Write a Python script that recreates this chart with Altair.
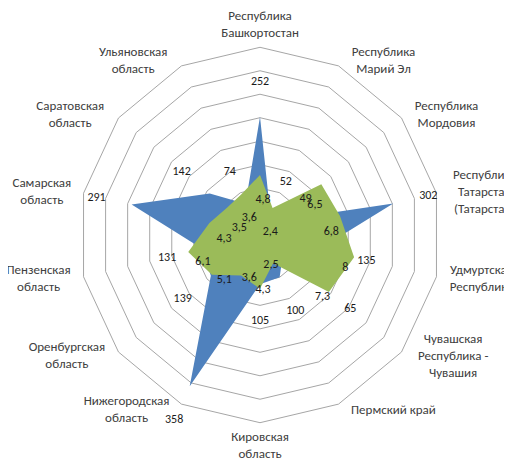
import altair as alt
import pandas as pd

# ---- data ----
categories = [
    "Республика\nБашкортостан",
    "Республика\nМарий Эл",
    "Республика\nМордовия",
    "Республика\nТатарстан\n(Татарстан)",
    "Удмуртская\nРеспублика",
    "Чувашская\nРеспублика -\nЧувашия",
    "Пермский край",
    "Кировская\nобласть",
    "Нижегородская\nобласть",
    "Оренбургская\nобласть",
    "Пензенская\nобласть",
    "Самарская\nобласть",
    "Саратовская\nобласть",
    "Ульяновская\nобласть",
]
blue_values = [252, 52, 49, 302, 135, 65, 100, 105, 358, 139, 131, 291, 142, 74]
green_values = [4.8, 2.4, 6.5, 6.8, 8, 7.3, 2.5, 4.3, 3.6, 5.1, 6.1, 4.3, 3.5, 3.6]
ring_levels = [50, 100, 150, 200, 250, 300, 350, 400]

# ---- layout / style ----
N = len(categories)
BLUE_MAX = 400.0
GREEN_MAX = 15.0       # secondary radial scale
RX, RY = 181.0, 187.7  # outer ring radius (px) horizontally / vertically
W, H = 496, 452
CX, CY = 252, 227      # centre in chart pixels
FONT = "Calibri, Carlito, 'Open Sans'"
BLUE = "#4F81BD"
GREEN = "#9BBB59"
LH = 17
blue_label_extra_px = [0, 0, 0, 0, 12, 50, 0, 0, 0, 0, 0, 0, 0, 0]


def fmt(v):
    return f"{v:g}".replace(".", ",")


df = pd.DataFrame({
    "idx": list(range(N)),
    "cat": categories,
    "nl": [len(c.split("\n")) for c in categories],
    "hw": [max(len(s) for s in c.split("\n")) * 3.3 for c in categories],
    "blue": blue_values,
    "green": green_values,
    "green_txt": [fmt(v) for v in green_values],
    "blue_txt": [fmt(v) for v in blue_values],
    "bpad": blue_label_extra_px,
})

ring_df = pd.DataFrame(
    [{"level": lv, "idx": i % N, "ord": i} for lv in ring_levels for i in range(N + 1)]
)

xs = alt.Scale(domain=[-CX, W - CX], nice=False, zero=False)
ys = alt.Scale(domain=[-(H - CY), CY], nice=False, zero=False)
X = alt.X("x:Q", scale=xs, axis=None)
Y = alt.Y("y:Q", scale=ys, axis=None)
S = f"sin(2*PI*datum.idx/{N})"
C = f"cos(2*PI*datum.idx/{N})"


def polar(field_expr, pad=0):
    """x/y (px from centre) for a radial value on the primary scale plus pad px."""
    return dict(
        x=f"(({field_expr})/{BLUE_MAX}*{RX} + ({pad}))*{S}",
        y=f"(({field_expr})/{BLUE_MAX}*{RY} + ({pad}))*{C}",
    )


rings = alt.Chart(ring_df).transform_calculate(
    **polar("datum.level")
).mark_line(stroke="#A6A6A6", strokeWidth=1).encode(
    x=X, y=Y, order="ord:Q", detail="level:N"
)

blue_poly = alt.Chart(df).transform_calculate(
    **polar("datum.blue")
).mark_line(filled=True, color=BLUE, strokeWidth=0).encode(
    x=X, y=Y, order="idx:Q"
)

green_r = f"datum.green*{BLUE_MAX}/{GREEN_MAX}"
green_poly = alt.Chart(df).transform_calculate(
    **polar(green_r)
).mark_line(filled=True, color=GREEN, strokeWidth=0).encode(
    x=X, y=Y, order="idx:Q"
)

blue_labels = alt.Chart(df).transform_calculate(
    **polar("datum.blue", "36 + datum.bpad")
).mark_text(font=FONT, fontSize=12, color="#1a1a1a", baseline="middle").encode(
    x=X, y=Y, text="blue_txt:N"
)

green_labels = alt.Chart(df).transform_calculate(
    **polar(green_r, "-12")
).mark_text(font=FONT, fontSize=12, color="#1a1a1a", baseline="middle",
            dx=3, dy=12).encode(
    x=X, y=Y, text="green_txt:N"
)

# category labels: box edge kept a fixed gap outside the outer ring vertex
side = f"(abs({S}) > 0.1)"
cat_labels = alt.Chart(df).transform_calculate(
    vx=f"{RX}*{S}", vy=f"{RY}*{C}"
).transform_calculate(
    cx=f"{side} ? datum.vx + ({S} > 0 ? 1 : -1)*(12 + datum.hw) : datum.vx",
    cy=f"{side} ? datum.vy + 6*{C} : datum.vy + {C}*(6 + datum.nl*{LH}/2)",
).transform_calculate(
    x="datum.cx", y=f"datum.cy + (datum.nl - 1)*{LH}/2"
).mark_text(font=FONT, fontSize=13, color="#404040", baseline="middle",
            align="center", lineBreak="\n", lineHeight=LH).encode(
    x=X, y=Y, text="cat:N"
)

chart = alt.layer(
    rings, blue_poly, green_poly, blue_labels, green_labels, cat_labels
).properties(
    width=W, height=H, autosize=alt.AutoSizeParams(type="none"), padding=0
).configure_view(stroke=None)

chart.save("out.html", embed_options={"renderer": "svg", "actions": False})
